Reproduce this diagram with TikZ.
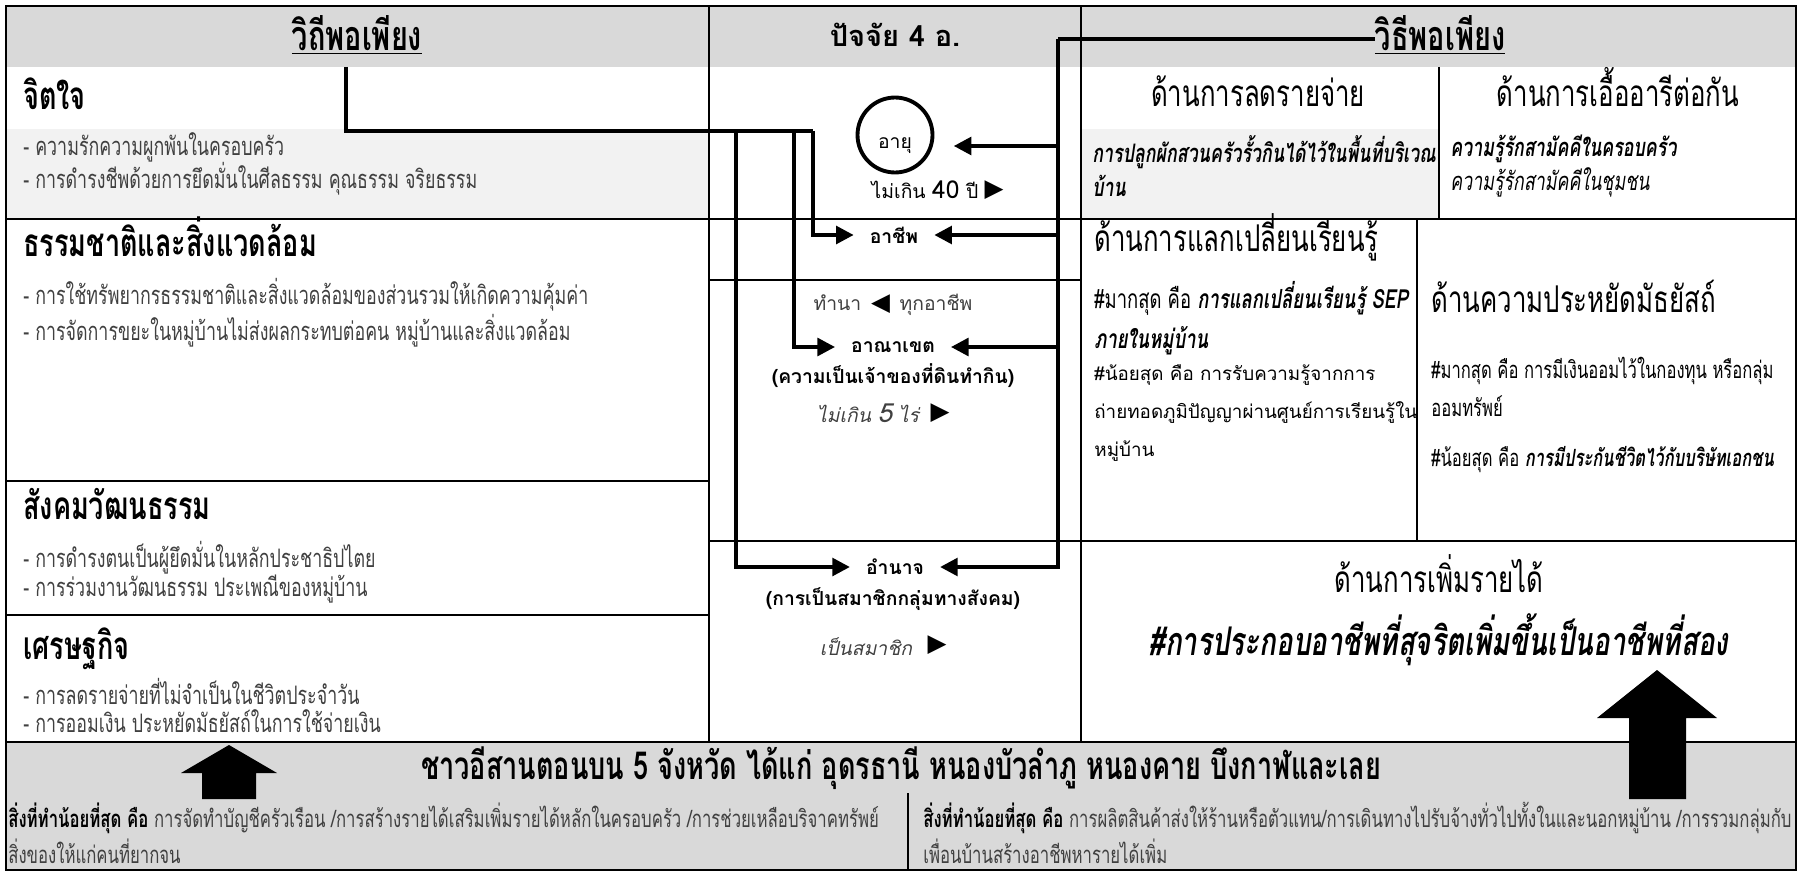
\documentclass[tikz,border=0pt]{standalone}
\usepackage{fontspec}
\usepackage{tikz}
\usetikzlibrary{arrows.meta}

\setmainfont[Script=Thai]{Loma}
\newfontfamily\narrow[Script=Thai,FakeStretch=0.7]{Loma}
\newfontfamily\symb{DejaVu Sans}

\definecolor{bandgray}{HTML}{D9D9D9}
\definecolor{palegray}{HTML}{F2F2F2}
\definecolor{textgray}{HTML}{404040}

\begin{document}
\begin{tikzpicture}[x=0.02cm,y=-0.02cm,
    rule/.style={line width=1.2pt},
    link/.style={line width=2.2pt},
    arr/.style={line width=2.2pt,-{Triangle[length=10pt,width=10pt]}},
    headtitle/.style={inner sep=0pt,font=\narrow\bfseries\fontsize{23.5}{26}\selectfont},
    secthead/.style={anchor=west,inner sep=0pt,text height=17pt,text depth=6pt,font=\narrow\bfseries\fontsize{22}{26}\selectfont},
    aspect/.style={inner sep=0pt,text height=16pt,text depth=6pt,font=\narrow\fontsize{21}{25}\selectfont},
    item/.style={anchor=west,inner sep=0pt,text height=11pt,text depth=4pt,text=textgray,font=\narrow\fontsize{14.5}{17}\selectfont},
    note/.style={anchor=west,inner sep=0pt,align=left,font=\narrow\fontsize{14.5}{19.5}\selectfont},
    factor/.style={inner xsep=9pt,inner ysep=1pt,font=\bfseries\fontsize{11}{13}\selectfont},
    detail/.style={inner sep=0pt,text=textgray,font=\fontsize{11}{13}\selectfont},
    tri/.style={inner sep=0pt,font=\symb\fontsize{14}{14}\selectfont}]

    \useasboundingbox (0,0) rectangle (1802,875);

    \fill[bandgray] (6,6) rectangle (1796,67);
    \fill[palegray] (6,129) rectangle (709,219);
    \fill[palegray] (1081,129) rectangle (1439,219);
    \fill[bandgray] (6,742) rectangle (1796,870);

    \draw[rule] (6,6) rectangle (1796,870);
    \draw[rule] (709,6) -- (709,742);
    \draw[rule] (1081,6) -- (1081,742);
    \draw[rule] (6,219) -- (1796,219);
    \draw[rule] (709,280) -- (1081,280);
    \draw[rule] (6,481) -- (709,481);
    \draw[rule] (709,541) -- (1796,541);
    \draw[rule] (6,615) -- (709,615);
    \draw[rule] (6,742) -- (1796,742);
    \draw[rule] (1439,67) -- (1439,219);
    \draw[rule] (1417,219) -- (1417,541);
    \draw[line width=0.6pt] (908,793) -- (908,870);

    \node[headtitle] (ltitle) at (357,35) {\underline{วิถีพอเพียง}};
    \node[headtitle,font=\bfseries\fontsize{16.5}{19}\selectfont] (mtitle) at (895,35) {ปัจจัย 4 อ.};
    \node[headtitle] (rtitle) at (1440,35) {\underline{วิธีพอเพียง}};

    \node[secthead] (mindhead) at (23,100) {จิตใจ};
    \node[item] (mind1) at (23,149) {- ความรักความผูกพันในครอบครัว};
    \node[item] (mind2) at (23,182) {- การดำรงชีพด้วยการยึดมั่นในศีลธรรม คุณธรรม จริยธรรม};
    \node[secthead] (naturehead) at (23,247) {ธรรมชาติและสิ่งแวดล้อม};
    \node[item] (nature1) at (23,298) {- การใช้ทรัพยากรธรรมชาติและสิ่งแวดล้อมของส่วนรวมให้เกิดความคุ้มค่า};
    \node[item] (nature2) at (23,334) {- การจัดการขยะในหมู่บ้านไม่ส่งผลกระทบต่อคน หมู่บ้านและสิ่งแวดล้อม};
    \node[secthead] (socialhead) at (23,510) {สังคมวัฒนธรรม};
    \node[item] (social1) at (23,561) {- การดำรงตนเป็นผู้ยึดมั่นในหลักประชาธิปไตย};
    \node[item] (social2) at (23,590) {- การร่วมงานวัฒนธรรม ประเพณีของหมู่บ้าน};
    \node[secthead] (econhead) at (23,650) {เศรษฐกิจ};
    \node[item] (econ1) at (23,698) {- การลดรายจ่ายที่ไม่จำเป็นในชีวิตประจำวัน};
    \node[item] (econ2) at (23,726) {- การออมเงิน ประหยัดมัธยัสถ์ในการใช้จ่ายเงิน};

    \node[circle,draw,line width=2.2pt,minimum size=1.5cm] (agecircle) at (895,135) {};
    \node[detail,text=black] (age) at (895,146) {อายุ};
    \node[detail,text=black] (agelimit) at (925,190) {ไม่เกิน {\fontsize{14}{13}\selectfont 40} ปี};
    \node[tri] (agetri) at (994,190) {▶};
    \node[factor] (job) at (894,235) {อาชีพ};
    \node[detail] (farm) at (893,305) {ทำนา \,{\symb\color{black}\fontsize{14}{14}\selectfont ◀}\, ทุกอาชีพ};
    \node[factor] (land) at (893,347) {อาณาเขต};
    \node[factor] (landnote) at (893,376) {(ความเป็นเจ้าของที่ดินทำกิน)};
    \node[detail,font=\itshape\fontsize{11}{13}\selectfont] (landlimit) at (868,413) {ไม่เกิน {\fontsize{15}{13}\selectfont 5} ไร่};
    \node[tri] (landtri) at (940,413) {▶};
    \node[factor] (power) at (895,567) {อำนาจ};
    \node[factor] (powernote) at (893,599) {(การเป็นสมาชิกกลุ่มทางสังคม)};
    \node[detail,font=\itshape\fontsize{11}{13}\selectfont] (member) at (866,647) {เป็นสมาชิก};
    \node[tri] (membertri) at (937,645) {▶};

    \node[aspect] (spendhead) at (1258,98) {ด้านการลดรายจ่าย};
    \node[aspect] (sharehead) at (1618,98) {ด้านการเอื้ออารีต่อกัน};
    \node[note,font=\narrow\bfseries\itshape\fontsize{14.5}{19.5}\selectfont] (spendnote) at (1092,166) {การปลูกผักสวนครัวรั้วกินได้ไว้ในพื้นที่บริเวณ\\บ้าน};
    \node[note] (sharenote) at (1450,166) {\textbf{\textit{ความรู้รักสามัคคีในครอบครัว}}\\\textit{ความรู้รักสามัคคีในชุมชน}};
    \node[aspect,anchor=west] (learnhead) at (1094,243) {ด้านการแลกเปลี่ยนเรียนรู้};
    \node[note,font=\narrow\fontsize{15}{22.8}\selectfont] (learnmost) at (1094,318) {\#มากสุด คือ \textbf{\textit{การแลกเปลี่ยนเรียนรู้ SEP}}\\\textbf{\textit{ภายในหมู่บ้าน}}};
    \node[note,font=\fontsize{10.7}{21.5}\selectfont] (learnleast) at (1094,413) {\#น้อยสุด คือ การรับความรู้จากการ\\ถ่ายทอดภูมิปัญญาผ่านศูนย์การเรียนรู้ใน\\หมู่บ้าน};
    \node[aspect,anchor=west] (thrifthead) at (1431,304) {ด้านความประหยัดมัธยัสถ์};
    \node[note,font=\narrow\fontsize{13.5}{22}\selectfont] (thriftmost) at (1431,387) {\#มากสุด คือ การมีเงินออมไว้ในกองทุน หรือกลุ่ม\\ออมทรัพย์};
    \node[note,font=\narrow\fontsize{13.5}{19.5}\selectfont] (thriftleast) at (1431,460) {\#น้อยสุด คือ \textbf{\textit{การมีประกันชีวิตไว้กับบริษัทเอกชน}}};
    \node[aspect] (incomehead) at (1439,584) {ด้านการเพิ่มรายได้};
    \node[aspect,font=\narrow\bfseries\itshape\fontsize{22.5}{27}\selectfont] (incomenote) at (1439,647) {\#การประกอบอาชีพที่สุจริตเพิ่มขึ้นเป็นอาชีพที่สอง};

    \node[headtitle,font=\narrow\bfseries\fontsize{22}{26}\selectfont] (people) at (901,768) {ชาวอีสานตอนบน 5 จังหวัด ได้แก่ อุดรธานี หนองบัวลำภู หนองคาย บึงกาฬและเลย};
    \node[note,font=\narrow\fontsize{13.6}{20.5}\selectfont,text=textgray] (leastleft) at (8,833) {\textbf{\color{black}สิ่งที่ทำน้อยที่สุด คือ} การจัดทำบัญชีครัวเรือน /การสร้างรายได้เสริมเพิ่มรายได้หลักในครอบครัว /การช่วยเหลือบริจาคทรัพย์\\สิ่งของให้แก่คนที่ยากจน};
    \node[note,font=\narrow\fontsize{13.6}{20.5}\selectfont,text=textgray] (leastright) at (923,833) {\textbf{\color{black}สิ่งที่ทำน้อยที่สุด คือ} การผลิตสินค้าส่งให้ร้านหรือตัวแทน/การเดินทางไปรับจ้างทั่วไปทั้งในและนอกหมู่บ้าน /การรวมกลุ่มกับ\\เพื่อนบ้านสร้างอาชีพหารายได้เพิ่ม};

    \fill (229,745) -- (277,773) -- (256,773) -- (256,799) -- (202,799) -- (202,773) -- (181,773) -- cycle;
    \fill (1657,670) -- (1717,718) -- (1686,718) -- (1686,799) -- (1629,799) -- (1629,718) -- (1597,718) -- cycle;

    \coordinate (vithi) at (346,67);
    \coordinate (splitpower) at (736,131);
    \coordinate (splitland) at (794,131);
    \coordinate (splitjob) at (813,131);
    \coordinate (rbend) at (1058,39);

    \draw[link] (vithi) |- (splitjob);
    \draw[arr] (splitjob) |- (job.west);
    \draw[arr] (splitland) |- (land.west);
    \draw[arr] (splitpower) |- (power.west);

    \draw[link] (rtitle.west |- rbend) -- (rbend);
    \draw[arr] (rbend) |- (power.east);
    \draw[arr] (rbend |- land) -- (land.east);
    \draw[arr] (rbend |- job) -- (job.east);
    \draw[arr,shorten >=11pt] (rbend |- age) -- (agecircle.east |- age);
\end{tikzpicture}
\end{document}
